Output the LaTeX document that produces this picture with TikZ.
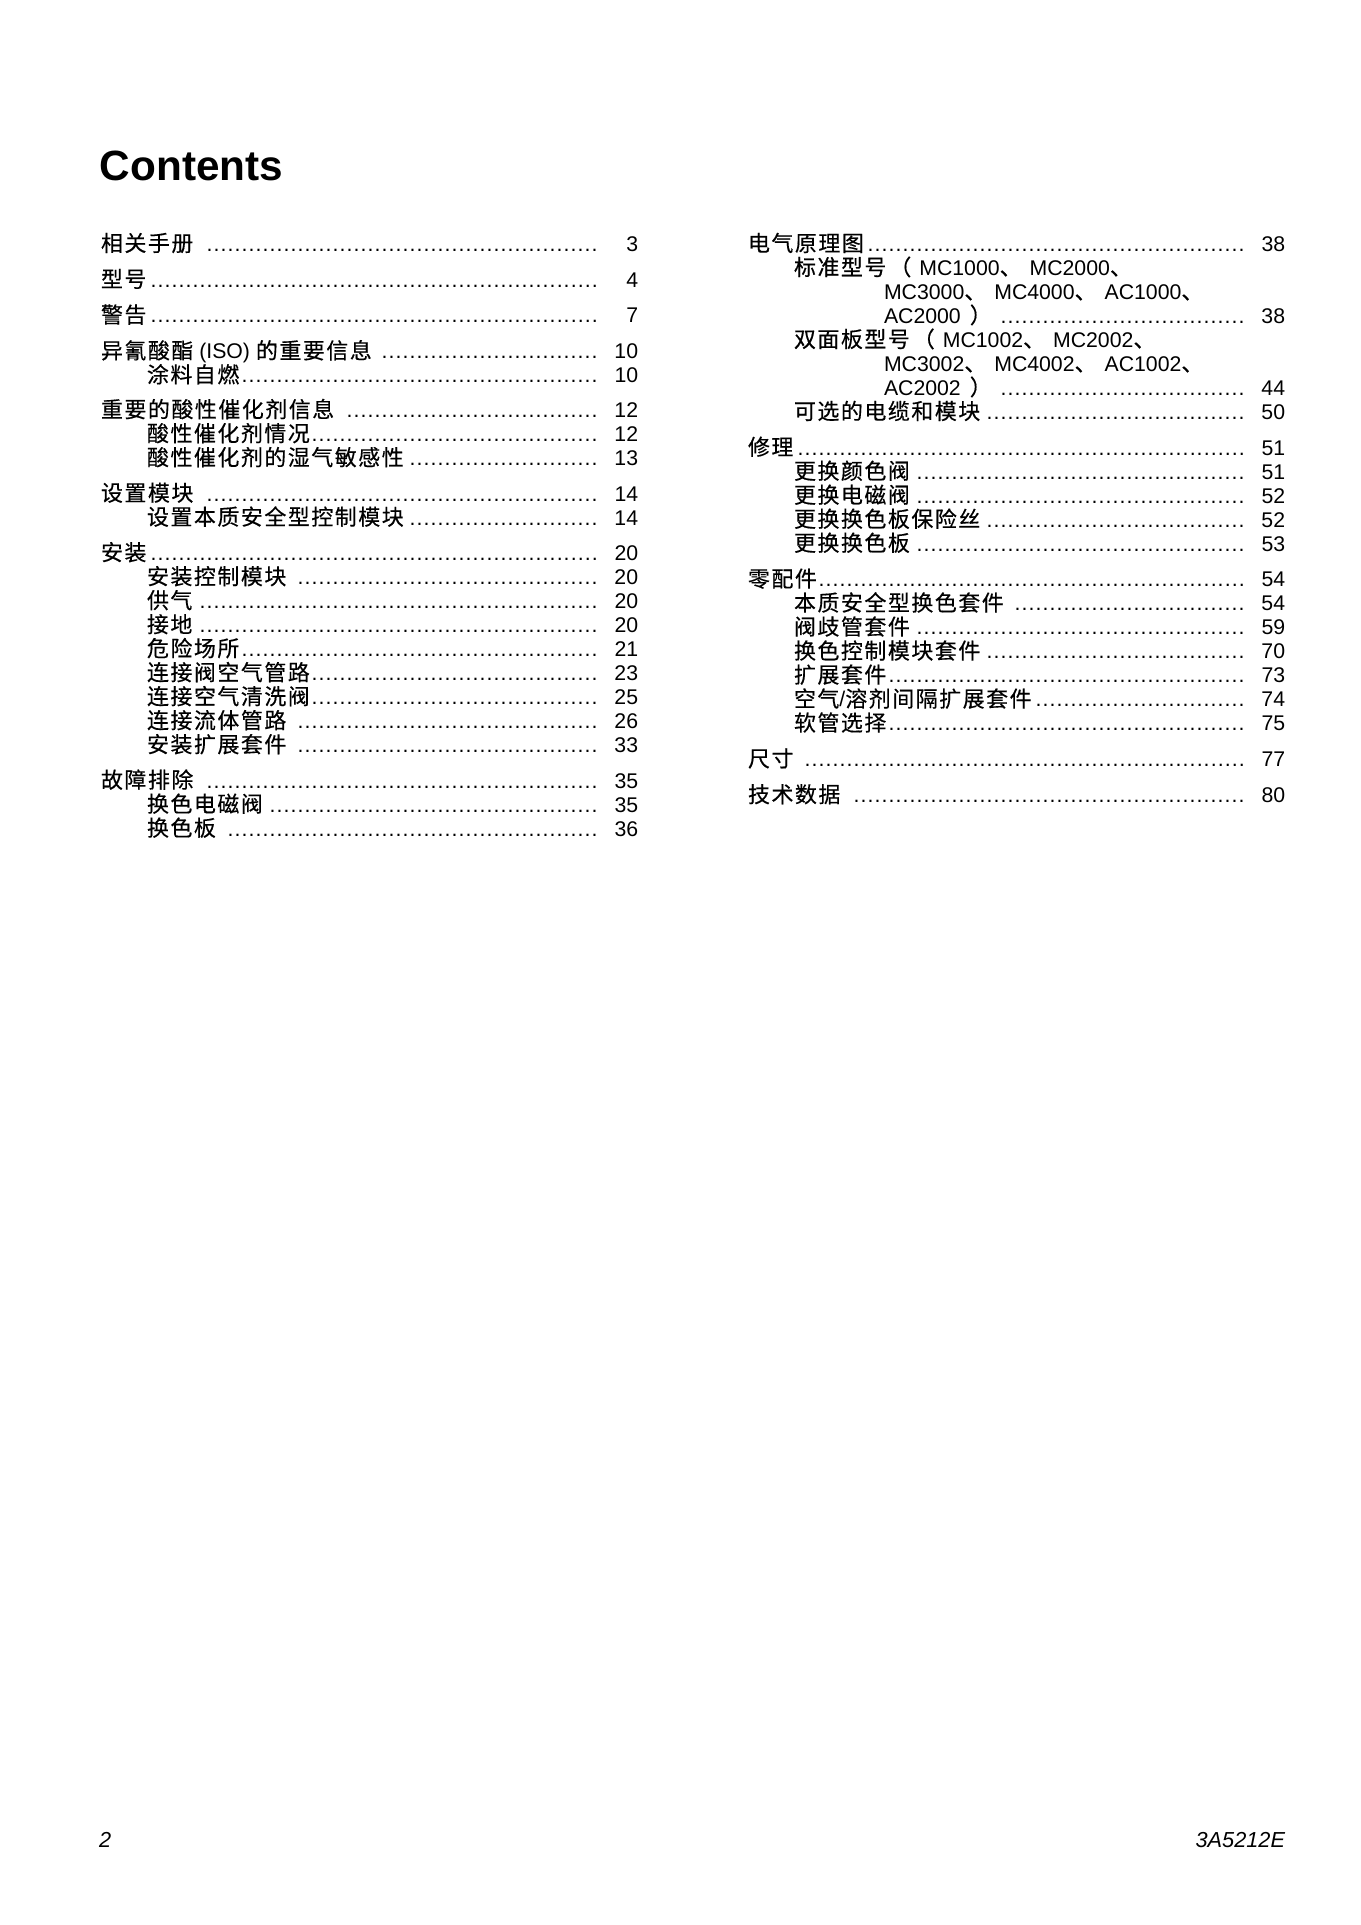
\documentclass[tikz,border=0pt]{standalone}
\usepackage{fontspec}
\setmainfont{Liberation Sans}
\newfontfamily\cjkfont[LetterSpace=7,FakeBold=0.4]{Noto Sans CJK SC}
\newdimen\px \px=0.4375pt
\newcommand\C[1]{{\fontsize{9.6pt}{11pt}\cjkfont #1}}
\newcommand\dun{\C{、}\hskip 8\px}
\newcommand\lp{\hskip 3\px\C{（}\hskip 8\px}
\newcommand\rp{\hskip 9\px\C{）}}
\newcommand\tocrow[6]{%
  \node[tocst] (#1) at (#2,#3+7.5) {\hbox to 537\px{\hskip #4\px #5\leaders\hbox to 7\px{\hss.\hss}\hfill\hbox to 35\px{\hss #6}}};}
\newcommand\tocline[5]{%
  \node[tocst] (#1) at (#2,#3+7.5) {\hbox to 537\px{\hskip #4\px #5\hfill}};}
\begin{document}
\begin{tikzpicture}[x=0.4375pt,y=-0.4375pt,
  tocst/.style={anchor=base west,inner sep=0pt,outer sep=0pt,font=\fontsize{9.3pt}{11pt}\selectfont},
  footst/.style={inner sep=0pt,outer sep=0pt,font=\fontsize{9.5pt}{11pt}\selectfont\itshape}]
\useasboundingbox (0,0) rectangle (1360,1925);
\fill[white] (0,0) rectangle (1360,1925);
\node[anchor=base west,inner sep=0pt,font=\fontsize{18.5pt}{22pt}\selectfont\bfseries] (title) at (99.5,180.7) {Contents};
% left column
\tocrow{a1}{101}{243.8}{0}{\C{相关手册}\ }{3}
\tocrow{a2}{101}{279.6}{0}{\C{型号}}{4}
\tocrow{a3}{101}{315.4}{0}{\C{警告}}{7}
\tocrow{a4}{101}{351.2}{0}{\C{异氰酸酯} (ISO) \C{的重要信息}\ }{10}
\tocrow{a5}{101}{375.2}{46}{\C{涂料自燃}}{10}
\tocrow{a6}{101}{410.0}{0}{\C{重要的酸性催化剂信息}\ }{12}
\tocrow{a7}{101}{434.0}{46}{\C{酸性催化剂情况}}{12}
\tocrow{a8}{101}{458.0}{46}{\C{酸性催化剂的湿气敏感性}}{13}
\tocrow{a9}{101}{493.5}{0}{\C{设置模块}\ }{14}
\tocrow{a10}{101}{517.5}{46}{\C{设置本质安全型控制模块}}{14}
\tocrow{a11}{101}{553.0}{0}{\C{安装}}{20}
\tocrow{a12}{101}{577.0}{46}{\C{安装控制模块}\ }{20}
\tocrow{a13}{101}{601.0}{46}{\C{供气}\ }{20}
\tocrow{a14}{101}{625.0}{46}{\C{接地}\ }{20}
\tocrow{a15}{101}{649.0}{46}{\C{危险场所}}{21}
\tocrow{a16}{101}{673.0}{46}{\C{连接阀空气管路}}{23}
\tocrow{a17}{101}{697.0}{46}{\C{连接空气清洗阀}}{25}
\tocrow{a18}{101}{721.0}{46}{\C{连接流体管路}\ }{26}
\tocrow{a19}{101}{745.0}{46}{\C{安装扩展套件}\ }{33}
\tocrow{a20}{101}{780.5}{0}{\C{故障排除}\ }{35}
\tocrow{a21}{101}{804.5}{46}{\C{换色电磁阀}\ }{35}
\tocrow{a22}{101}{828.5}{46}{\C{换色板}\ }{36}
% right column
\tocrow{b1}{748}{243.8}{0}{\C{电气原理图}}{38}
\tocline{b2}{748}{267.8}{46}{\C{标准型号}\lp MC1000\dun MC2000\dun}
\tocline{b3}{748}{291.8}{136}{MC3000\dun MC4000\dun AC1000\dun}
\tocrow{b4}{748}{315.8}{136}{AC2000\rp\ }{38}
\tocline{b5}{748}{339.8}{46}{\C{双面板型号}\lp MC1002\dun MC2002\dun}
\tocline{b6}{748}{363.8}{136}{MC3002\dun MC4002\dun AC1002\dun}
\tocrow{b7}{748}{387.8}{136}{AC2002\rp\ }{44}
\tocrow{b8}{748}{411.8}{46}{\C{可选的电缆和模块}}{50}
\tocrow{b9}{748}{447.6}{0}{\C{修理}}{51}
\tocrow{b10}{748}{471.6}{46}{\C{更换颜色阀}\ }{51}
\tocrow{b11}{748}{495.6}{46}{\C{更换电磁阀}\ }{52}
\tocrow{b12}{748}{519.6}{46}{\C{更换换色板保险丝}}{52}
\tocrow{b13}{748}{543.6}{46}{\C{更换换色板}\ }{53}
\tocrow{b14}{748}{579.4}{0}{\C{零配件}}{54}
\tocrow{b15}{748}{603.4}{46}{\C{本质安全型换色套件}\ }{54}
\tocrow{b16}{748}{627.4}{46}{\C{阀歧管套件}\ }{59}
\tocrow{b17}{748}{651.4}{46}{\C{换色控制模块套件}}{70}
\tocrow{b18}{748}{675.4}{46}{\C{扩展套件}}{73}
\tocrow{b19}{748}{699.4}{46}{\C{空气}/\C{溶剂间隔扩展套件}}{74}
\tocrow{b20}{748}{723.4}{46}{\C{软管选择}}{75}
\tocrow{b21}{748}{759.2}{0}{\C{尺寸}\ }{77}
\tocrow{b22}{748}{795.0}{0}{\C{技术数据}\ }{80}
% footer
\node[footst,anchor=base west] (pgno) at (99,1847) {2};
\node[footst,anchor=base east] (docno) at (1285,1847) {3A5212E};
\end{tikzpicture}
\end{document}
